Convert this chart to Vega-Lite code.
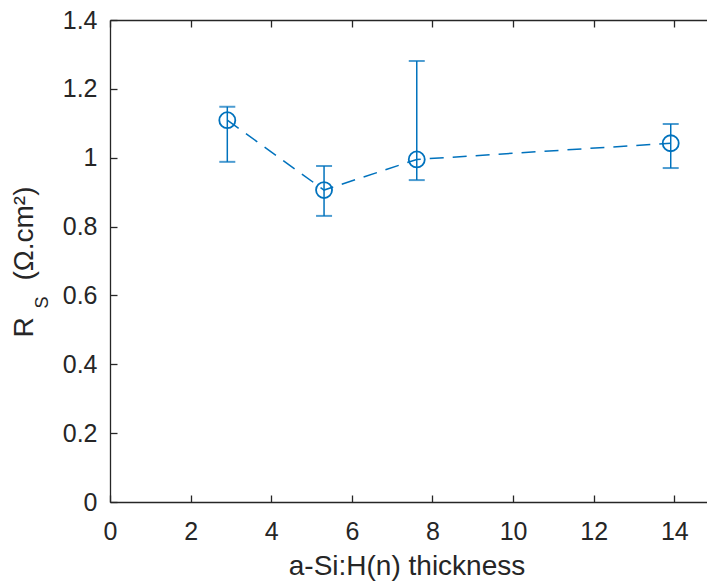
{
  "$schema": "https://vega.github.io/schema/vega-lite/v6.json",
  "width": 597,
  "height": 482,
  "autosize": {"type": "none"},
  "padding": {"left": 110, "top": 20, "right": 0, "bottom": 80},
  "config": {
    "view": {"stroke": null},
    "axis": {
      "grid": false,
      "domainColor": "#262626",
      "domainWidth": 1.3,
      "tickColor": "#262626",
      "tickWidth": 1.3,
      "labelColor": "#262626",
      "titleColor": "#262626",
      "labelFont": "Liberation Sans",
      "titleFont": "Liberation Sans",
      "labelFontSize": 25,
      "titleFontSize": 28,
      "titleFontWeight": "normal",
      "labelFlush": false
    }
  },
  "data": {
    "values": [
      {"t": 2.91, "rs": 1.109, "lo": 0.988, "hi": 1.148},
      {"t": 5.31, "rs": 0.906, "lo": 0.831, "hi": 0.976},
      {"t": 7.61, "rs": 0.995, "lo": 0.935, "hi": 1.281},
      {"t": 13.91, "rs": 1.042, "lo": 0.970, "hi": 1.098}
    ]
  },
  "layer": [
    {
      "mark": {"type": "errorbar", "color": "#0072BD", "thickness": 1.5, "ticks": {"size": 16, "thickness": 2, "color": "#0072BD"}},
      "encoding": {
        "x": {
          "field": "t", "type": "quantitative",
          "scale": {"domain": [0, 14.81], "nice": false, "zero": false},
          "axis": {
            "orient": "bottom",
            "values": [0, 2, 4, 6, 8, 10, 12, 14],
            "format": "d",
            "tickSize": -7,
            "labelPadding": 24,
            "title": "a-Si:H(n) thickness",
            "titleX": 296.5,
            "titleY": 72,
            "titleBaseline": "alphabetic",
            "titleAlign": "center"
          }
        },
        "y": {
          "field": "lo", "type": "quantitative",
          "scale": {"domain": [0, 1.4], "nice": false},
          "axis": {
            "orient": "left",
            "values": [0, 0.2, 0.4, 0.6, 0.8, 1, 1.2, 1.4],
            "format": "~g",
            "tickSize": -7,
            "labelPadding": 20,
            "title": "(Ω.cm²)",
            "titleAngle": -90,
            "titleX": -78,
            "titleY": 213,
            "titleAlign": "center",
            "titleBaseline": "alphabetic"
          }
        },
        "y2": {"field": "hi"}
      }
    },
    {
      "mark": {"type": "line", "color": "#0072BD", "strokeWidth": 1.5, "strokeDash": [14, 9]},
      "encoding": {
        "x": {
          "field": "t", "type": "quantitative",
          "axis": {
            "orient": "top",
            "values": [0, 2, 4, 6, 8, 10, 12, 14],
            "labels": false,
            "tickSize": -7,
            "title": null
          }
        },
        "y": {
          "field": "rs", "type": "quantitative",
          "axis": {
            "orient": "left",
            "domain": false,
            "ticks": false,
            "labels": false,
            "title": "R",
            "titleAngle": -90,
            "titleX": -78,
            "titleY": 307,
            "titleAlign": "center",
            "titleBaseline": "alphabetic"
          }
        }
      }
    },
    {
      "mark": {"type": "point", "shape": "circle", "filled": false, "color": "#0072BD", "size": 256, "strokeWidth": 1.8, "opacity": 1},
      "encoding": {
        "x": {"field": "t", "type": "quantitative", "axis": null},
        "y": {
          "field": "rs", "type": "quantitative",
          "axis": {
            "orient": "left",
            "domain": false,
            "ticks": false,
            "labels": false,
            "title": "S",
            "titleFontSize": 18,
            "titleAngle": -90,
            "titleX": -63,
            "titleY": 282,
            "titleAlign": "center",
            "titleBaseline": "alphabetic"
          }
        }
      }
    }
  ],
  "resolve": {"axis": {"x": "independent", "y": "independent"}}
}
